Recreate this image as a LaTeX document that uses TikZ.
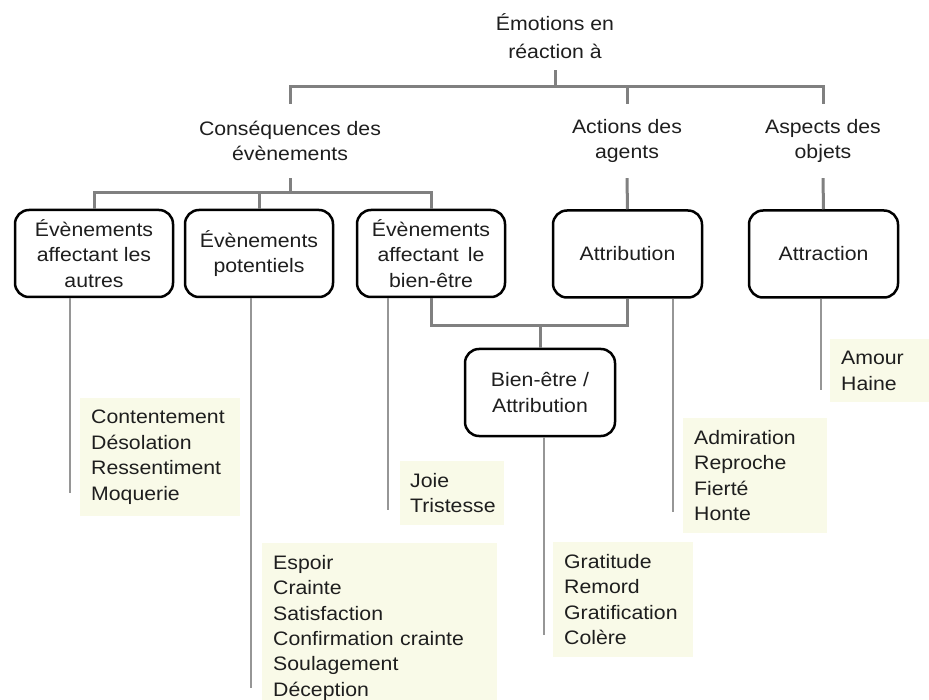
\documentclass[tikz,border=0pt]{standalone}
\usepackage{fontspec}
\setmainfont{Liberation Sans}[FakeStretch=1.09]
\definecolor{treegray}{RGB}{128,128,128}
\definecolor{leafgray}{RGB}{150,150,150}
\definecolor{listbg}{RGB}{249,250,232}
\definecolor{ink}{RGB}{30,30,30}
\begin{document}
\begin{tikzpicture}[x=1pt,y=-1pt,
  every node/.style={text=ink},
  txt/.style={font=\fontsize{19.5}{25.5}\selectfont, align=center, inner sep=0pt},
  head/.style={txt, minimum height=74pt},
  box/.style={txt, draw=black, line width=2.5pt, rounded corners=14pt, minimum height=87pt},
  lst/.style={font=\fontsize{19.5}{25.4}\selectfont, align=left, anchor=north west, fill=listbg, inner xsep=11pt, inner ysep=12pt},
  tree/.style={draw=treegray, line width=3pt},
  leaf/.style={draw=leafgray, line width=2pt}]
\useasboundingbox (0,0) rectangle (929,700);
\fill[white] (0,0) rectangle (929,700);

% headings
\node[txt, font=\fontsize{19.5}{28.5}\selectfont, minimum height=68pt] (title) at (555,36) {Émotions en\\réaction à};
\node[head] (cons) at (290,141) {Conséquences des\\évènements};
\node[head] (actions) at (627,141) {Actions des\\agents};
\node[head] (aspects) at (823,141) {Aspects des\\objets};

% boxes
\node[box, minimum width=158pt] (b1) at (94,253.5) {Évènements\\affectant les\\autres};
\node[box, minimum width=148pt] (b2) at (259,253.5) {Évènements\\potentiels};
\node[box, minimum width=148pt] (b3) at (431,253.5) {Évènements\\affectant\, le\\bien-être};
\node[box, minimum width=149pt] (attr) at (627.5,254) {Attribution};
\node[box, minimum width=149pt] (attrac) at (823.5,254) {Attraction};
\node[box, minimum width=150pt] (bien) at (540,392.5) {Bien-être /\\Attribution};

% tree connectors
\coordinate (t1) at (555,87);
\draw[tree] (title.south) -- (t1);
\draw[tree] (cons.north) |- (t1) -| (aspects.north);
\draw[tree] (actions.north) -- (actions.north |- t1);
\coordinate (t2) at (290,193);
\draw[tree] (cons.south) -- (t2);
\draw[tree] (b1.north) |- (t2) -| (b3.north);
\draw[tree] (b2.north) -- (b2.north |- t2);
\draw[tree] (actions.south) -- (attr.north);
\draw[tree] (aspects.south) -- (attrac.north);
\coordinate (t3) at (540,326);
\draw[tree] (b3.south) |- (t3) -| (attr.south);
\draw[tree] (t3) -- (bien.north);

% lists
\node[lst, text width=138pt] (l1) at (80,398) {Contentement\\Désolation\\Ressentiment\\Moquerie};
\node[lst, text width=213pt] (l2) at (262,543) {Espoir\\Crainte\\Satisfaction\\Confirmation crainte\\Soulagement\\Déception};
\node[lst, text width=84pt, inner xsep=10pt] (l3) at (400,461) {Joie\\Tristesse};
\node[lst, text width=118pt] (l4) at (553,542) {Gratitude\\Remord\\Gratification\\Colère};
\node[lst, text width=122pt] (l5) at (683,418) {Admiration\\Reproche\\Fierté\\Honte};
\node[lst, text width=77pt] (l6) at (830,339) {Amour\\Haine};

% leaf connectors
\coordinate (e1) at (70,493);
\coordinate (e2) at (251,688);
\coordinate (e3) at (388,510);
\coordinate (e4) at (673,512);
\coordinate (e5) at (821,390);
\coordinate (e6) at (544,635);
\draw[leaf] (b1.south -| e1) -- (e1);
\draw[leaf] (b2.south -| e2) -- (e2);
\draw[leaf] (b3.south -| e3) -- (e3);
\draw[leaf] (attr.south -| e4) -- (e4);
\draw[leaf] (attrac.south -| e5) -- (e5);
\draw[leaf] (bien.south -| e6) -- (e6);
\end{tikzpicture}
\end{document}
